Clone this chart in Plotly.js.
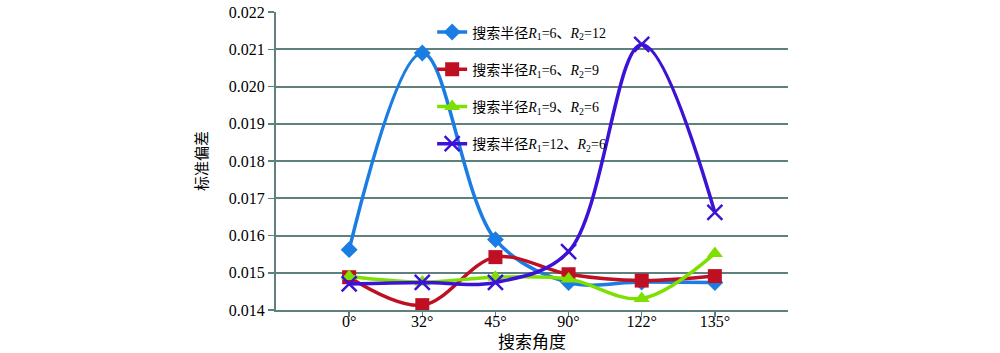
<!DOCTYPE html>
<html>
<head>
<meta charset="utf-8">
<script src="https://cdn.plot.ly/plotly-3.0.1.min.js"></script>
<style>html,body{margin:0;padding:0;background:#fff;}#chart{width:1000px;height:353px;}</style>
</head>
<body>
<div id="chart"></div>
<script>
const categories = ['0°', '32°', '45°', '90°', '122°', '135°'];
const seriesNames = [
  '搜索半径<i>R</i><sub>1</sub>=6、<i>R</i><sub>2</sub>=12',
  '搜索半径<i>R</i><sub>1</sub>=6、<i>R</i><sub>2</sub>=9',
  '搜索半径<i>R</i><sub>1</sub>=9、<i>R</i><sub>2</sub>=6',
  '搜索半径<i>R</i><sub>1</sub>=12、<i>R</i><sub>2</sub>=6'
];
const r6_12 = [0.01562, 0.02090, 0.01589, 0.01474, 0.01475, 0.01474];
const r6_9  = [0.01488, 0.01413, 0.01542, 0.01496, 0.01479, 0.01491];
const r9_6  = [0.01490, 0.01475, 0.01488, 0.01483, 0.01431, 0.01552];
const r12_6 = [0.01470, 0.01474, 0.01474, 0.01557, 0.02113, 0.01662];
const yTicks = [0.014, 0.015, 0.016, 0.017, 0.018, 0.019, 0.020, 0.021, 0.022];

const xIdx = categories.map((c, i) => i);
const colors = ['#1b7de3', '#be1022', '#7ee000', '#3c12d6'];
const symbols = ['diamond', 'square', 'triangle-up', 'x-thin-open'];
const sizes = [13, 14, 14, 15];
const allSeries = [r6_12, r6_9, r9_6, r12_6];
const serif = "'Liberation Serif', 'Times New Roman', 'DejaVu Serif', 'Noto Sans CJK SC', serif";
const cjk = "'Noto Sans CJK SC', sans-serif";

const traces = allSeries.map((ys, k) => ({
  type: 'scatter',
  mode: 'lines+markers',
  x: xIdx,
  y: ys,
  name: seriesNames[k],
  legendgroup: 'g' + k,
  line: {color: colors[k], width: 3.5, shape: 'spline', smoothing: 1},
  marker: {
    symbol: symbols[k], size: sizes[k], color: colors[k],
    line: {color: colors[k], width: k === 3 ? 2.5 : 0}
  }
}));

const layout = {
  width: 1000, height: 353,
  margin: {l: 276, r: 212, t: 12, b: 43},
  paper_bgcolor: '#ffffff', plot_bgcolor: '#ffffff',
  showlegend: true,
  legend: {
    x: 0.305, xanchor: 'left', y: 0.985, yanchor: 'top',
    bgcolor: 'rgba(0,0,0,0)', borderwidth: 0,
    font: {family: serif, size: 14, color: '#000'},
    tracegroupgap: 16, itemwidth: 30
  },
  xaxis: {
    range: [-1, 6], tickmode: 'array', tickvals: xIdx, ticktext: categories,
    showgrid: false, zeroline: false, showline: true, linecolor: '#5f817e', linewidth: 2,
    ticks: 'outside', ticklen: 5, tickcolor: '#5f817e', tickwidth: 1.5,
    ticklabelstandoff: -9,
    tickfont: {family: serif, size: 16, color: '#000'},
    title: {text: '搜索角度', font: {family: cjk, size: 17, color: '#000'}, standoff: 8},
    fixedrange: true
  },
  yaxis: {
    range: [0.014, 0.022], tickmode: 'array', tickvals: yTicks,
    tickformat: '.3f',
    showgrid: true, gridcolor: '#5f817e', gridwidth: 2,
    zeroline: false, showline: true, linecolor: '#5f817e', linewidth: 2,
    ticks: 'outside', ticklen: 6, tickcolor: '#5f817e', tickwidth: 1.5,
    tickfont: {family: serif, size: 16, color: '#000'},
    title: {text: '标准偏差', font: {family: cjk, size: 15, color: '#000'}, standoff: 18},
    fixedrange: true
  }
};

Plotly.newPlot('chart', traces, layout, {displayModeBar: false, staticPlot: true});
</script>
</body>
</html>
